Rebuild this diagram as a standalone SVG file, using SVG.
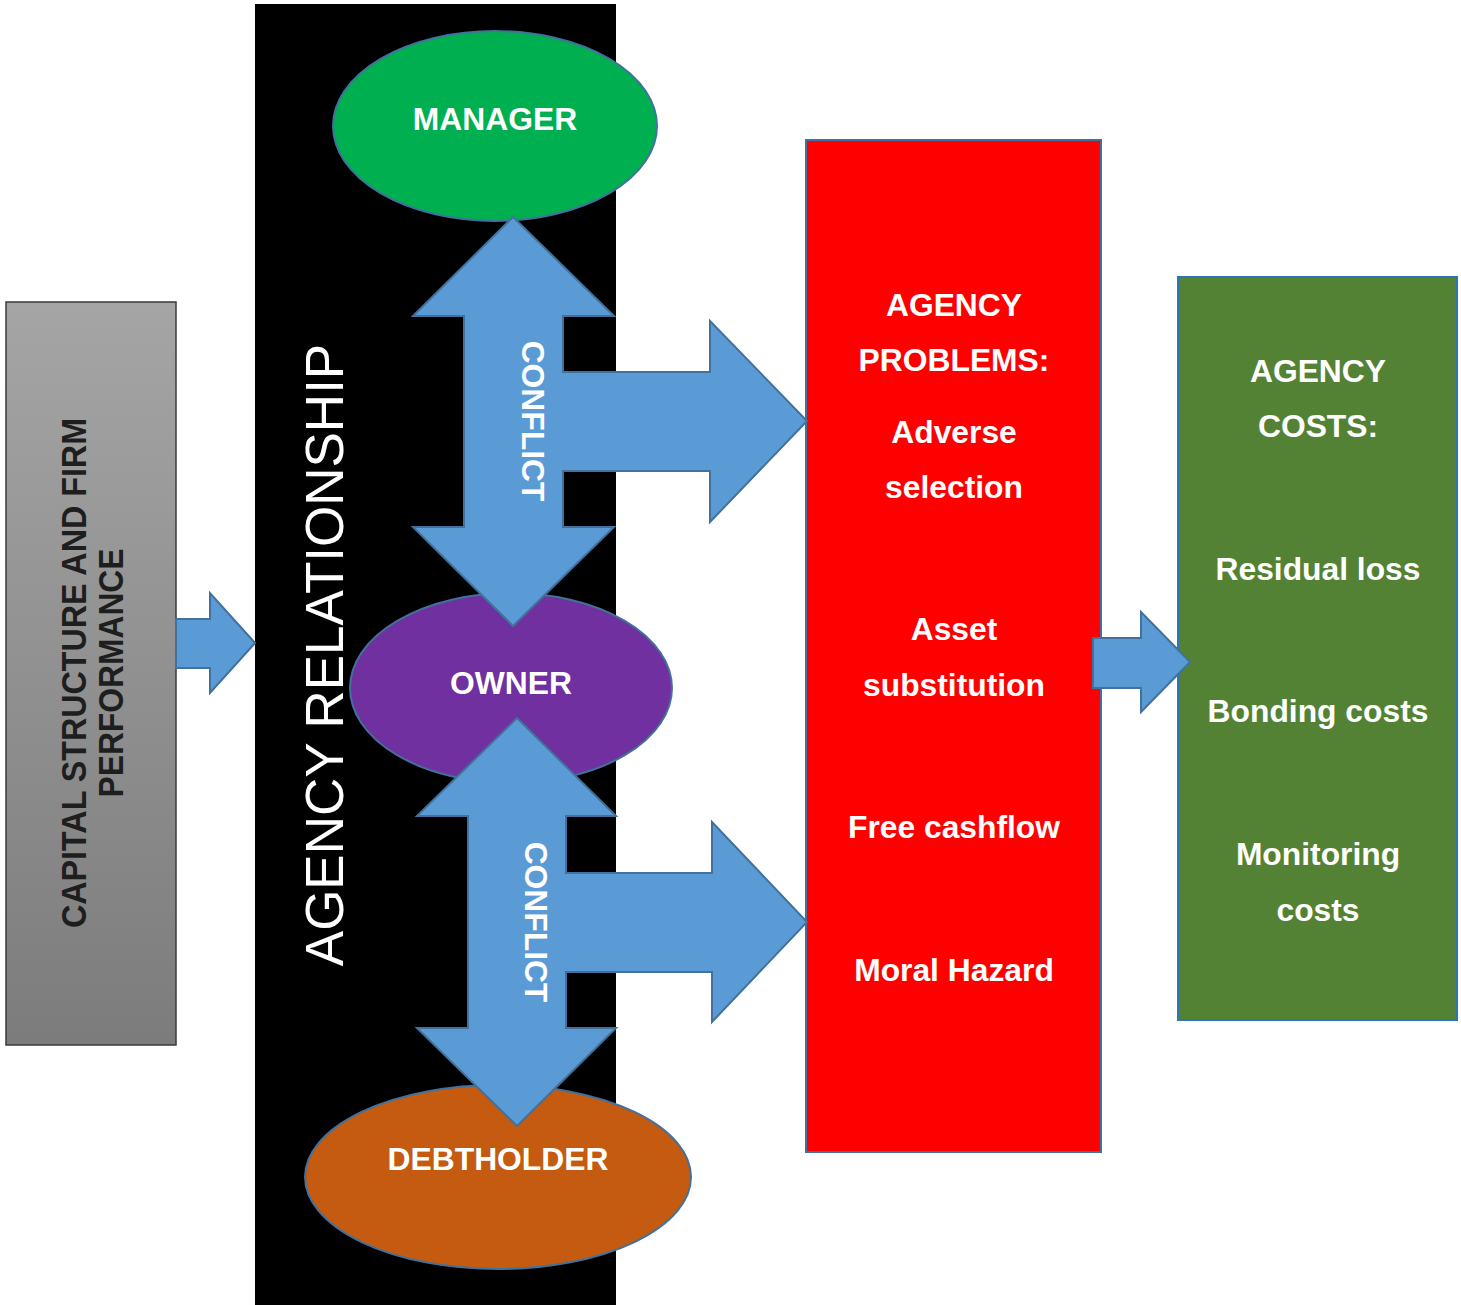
<svg xmlns="http://www.w3.org/2000/svg" width="1461" height="1305" viewBox="0 0 1461 1305">
  <defs>
    <linearGradient id="grayGrad" x1="0" y1="0" x2="0" y2="1">
      <stop offset="0" stop-color="#a5a5a5"/>
      <stop offset="1" stop-color="#7c7c7c"/>
    </linearGradient>
  </defs>
  <style>
    .lbl { font-family: "Liberation Sans", Arial, sans-serif; font-weight: bold; font-size: 31.8px; fill: #ffffff; text-anchor: middle; }
    .arrow { fill: #5b9bd5; stroke: #41719c; stroke-width: 2; stroke-linejoin: miter; }
    .ell { stroke: #41719c; stroke-width: 2; }
  </style>
  <rect width="1461" height="1305" fill="#ffffff"/>

  <g id="capital-structure">
    <rect x="6" y="302" width="170" height="743" fill="url(#grayGrad)" stroke="#3a3a3a" stroke-width="1.5"/>
    <text class="lbl" style="fill:#1e1e1e;font-size:35px" textLength="510" lengthAdjust="spacingAndGlyphs" transform="translate(86,673) rotate(-90)">CAPITAL STRUCTURE AND FIRM</text>
    <text class="lbl" style="fill:#1e1e1e;font-size:35px" textLength="249" lengthAdjust="spacingAndGlyphs" transform="translate(123,673) rotate(-90)">PERFORMANCE</text>
  </g>

  <g id="agency-relationship">
    <rect x="255" y="4" width="361" height="1301" fill="#000000"/>
    <text style="font-family:'Liberation Sans',Arial,sans-serif;font-size:53px;fill:#ffffff;text-anchor:middle" transform="translate(343,655) rotate(-90)">AGENCY RELATIONSHIP</text>
  </g>

  <g id="manager">
    <ellipse class="ell" cx="495" cy="126" rx="162" ry="95" fill="#00b050"/>
  </g>
  <g id="owner">
    <ellipse class="ell" cx="511" cy="688" rx="161" ry="95" fill="#7030a0"/>
  </g>
  <g id="debtholder">
    <ellipse class="ell" cx="498" cy="1177" rx="193" ry="92" fill="#c55a11"/>
  </g>

  <g id="agency-problems">
    <rect x="806" y="140" width="295" height="1012" fill="#ff0000" stroke="#41719c" stroke-width="2"/>
    <text class="lbl" x="954" y="316">AGENCY</text>
    <text class="lbl" x="954" y="371">PROBLEMS:</text>
    <text class="lbl" x="954" y="443">Adverse</text>
    <text class="lbl" x="954" y="498">selection</text>
    <text class="lbl" x="954" y="640">Asset</text>
    <text class="lbl" x="954" y="696">substitution</text>
    <text class="lbl" x="954" y="838">Free cashflow</text>
    <text class="lbl" x="954" y="981">Moral Hazard</text>
  </g>

  <g id="agency-costs">
    <rect x="1178" y="277" width="279" height="743" fill="#548235" stroke="#2e75b6" stroke-width="2"/>
    <text class="lbl" x="1318" y="382">AGENCY</text>
    <text class="lbl" x="1318" y="437">COSTS:</text>
    <text class="lbl" x="1318" y="580">Residual loss</text>
    <text class="lbl" x="1318" y="722">Bonding costs</text>
    <text class="lbl" x="1318" y="865">Monitoring</text>
    <text class="lbl" x="1318" y="921">costs</text>
  </g>

  <g id="connectors">
    <polygon class="arrow" points="176,619 210,619 210,593 255,643 210,693 210,668 176,668"/>
    <polygon class="arrow" points="513,217 614,316 563,316 563,372 710,372 710,321 807,421 710,522 710,471 563,471 563,527 614,527 513,626 413,527 464,527 464,316 413,316"/>
    <polygon class="arrow" points="517,718 616,816 566,816 566,873 712,873 712,822 807,922 712,1022 712,972 566,972 566,1028 616,1028 517,1126 417,1028 468,1028 468,816 417,816"/>
    <polygon class="arrow" points="1093,638 1141,638 1141,612 1190,662 1141,712 1141,688 1093,688"/>
    <text class="lbl" transform="translate(522,421) rotate(90)">CONFLICT</text>
    <text class="lbl" transform="translate(525,922) rotate(90)">CONFLICT</text>
  </g>

  <g id="node-labels">
    <text class="lbl" x="495" y="130">MANAGER</text>
    <text class="lbl" x="511" y="694">OWNER</text>
    <text class="lbl" x="498" y="1170">DEBTHOLDER</text>
  </g>
</svg>
